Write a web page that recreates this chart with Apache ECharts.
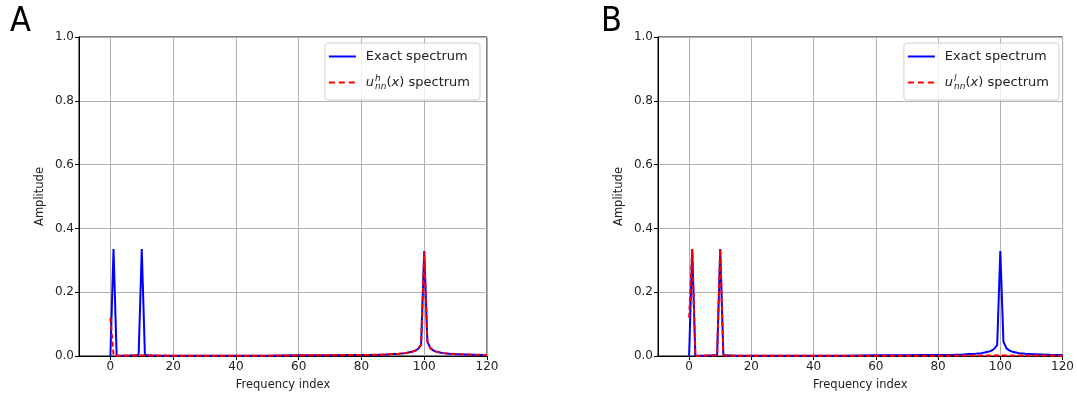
<!DOCTYPE html>
<html>
<head>
<meta charset="utf-8">
<script src="https://cdn.jsdelivr.net/npm/echarts@6/dist/echarts.min.js"></script>
<style>
html,body{margin:0;padding:0;background:#fff;}
#chart{width:1077px;height:396px;}
</style>
</head>
<body>
<div id="chart"></div>
<script>
// ---- data ----
const xTicks = [0, 20, 40, 60, 80, 100, 120];
const yTicks = [0, 0.2, 0.4, 0.6, 0.8, 1.0];

const exactK   = [0, 1, 2, 3, 5, 8, 9, 10, 11, 12, 15, 20, 30, 40, 50, 60, 70, 75, 80, 85, 88, 90, 92, 94, 95, 96, 97, 98, 99, 100, 101, 102, 103, 104, 105, 106, 108, 110, 113, 116, 120];
const exactAmp = [0, 0.335, 0, 0.001, 0.001, 0.002, 0.004, 0.335, 0.004, 0.002, 0.001, 0.001, 0.001, 0.001, 0.001, 0.002, 0.002, 0.003, 0.003, 0.004, 0.005, 0.006, 0.007, 0.009, 0.011, 0.013, 0.016, 0.022, 0.035, 0.329, 0.045, 0.024, 0.017, 0.013, 0.011, 0.009, 0.007, 0.006, 0.005, 0.004, 0.003];

const highK   = [0, 1, 2, 10, 20, 30, 40, 50, 60, 70, 75, 80, 85, 88, 90, 92, 94, 95, 96, 97, 98, 99, 100, 101, 102, 103, 104, 105, 106, 108, 110, 113, 116, 120];
const highAmp = [0.12, 0.003, 0.001, 0.002, 0.001, 0.001, 0.001, 0.001, 0.002, 0.002, 0.003, 0.003, 0.004, 0.005, 0.006, 0.007, 0.009, 0.011, 0.013, 0.016, 0.022, 0.035, 0.327, 0.045, 0.024, 0.017, 0.013, 0.011, 0.009, 0.007, 0.006, 0.005, 0.004, 0.003];

const lowK   = [0, 1, 2, 3, 8, 9, 10, 11, 12, 20, 40, 60, 80, 100, 120];
const lowAmp = [0.12, 0.335, 0, 0.001, 0.002, 0.003, 0.335, 0.003, 0.001, 0.001, 0.001, 0.001, 0.001, 0.002, 0.001];

const panelLabels = ['A', 'B'];
const exactName = 'Exact spectrum';
const highName = 'u_h';
const lowName = 'u_l';

function pairs(xs, ys) { return xs.map((x, i) => [x, ys[i]]); }

const FONT = 'DejaVu Sans';
const grids = [
  { left: 79, right: 590, top: 37, bottom: 40 },
  { left: 658, right: 12, top: 37, bottom: 40 }
];

function xAxisFor(i) {
  return {
    type: 'value', gridIndex: i, min: -10, max: 120,
    name: 'Frequency index', nameLocation: 'middle', nameGap: 23,
    nameTextStyle: { fontFamily: FONT, fontSize: 11.5, color: '#222' },
    axisLine: { show: true, onZero: false, lineStyle: { color: '#000', width: 1 } },
    axisTick: { show: true, inside: false, length: 4, customValues: xTicks, lineStyle: { color: '#000' } },
    axisLabel: { customValues: xTicks, fontFamily: FONT, fontSize: 12, color: '#222', margin: 5 },
    splitLine: { show: true, customValues: xTicks, lineStyle: { color: '#b0b0b0', width: 1 } }
  };
}
function yAxisFor(i) {
  return {
    type: 'value', gridIndex: i, min: 0, max: 1, interval: 0.2,
    name: 'Amplitude', nameLocation: 'middle', nameGap: 33,
    nameTextStyle: { fontFamily: FONT, fontSize: 11.5, color: '#222' },
    axisLine: { show: true, onZero: false, lineStyle: { color: '#000', width: 1 } },
    axisTick: { show: true, inside: false, length: 4, lineStyle: { color: '#000' } },
    axisLabel: { fontFamily: FONT, fontSize: 12, color: '#222', margin: 5, formatter: v => v.toFixed(1) },
    splitLine: { show: true, lineStyle: { color: '#b0b0b0', width: 1 } }
  };
}

const rich = {
  it: { fontFamily: FONT, fontStyle: 'italic', fontSize: 13, color: '#222' },
  sup: { fontFamily: FONT, fontStyle: 'italic', fontSize: 9, color: '#222', verticalAlign: 'top', width: 0, padding: [0, 0, 8, 1] },
  sub: { fontFamily: FONT, fontStyle: 'italic', fontSize: 9, color: '#222', verticalAlign: 'bottom', padding: [6, 0, 0, 0] },
  rm: { fontFamily: FONT, fontSize: 13, color: '#222' }
};
function legendFormatter(name) {
  if (name === highName) return '{it|u}{sup|h}{sub|nn}{rm|(}{it|x}{rm|) spectrum}';
  if (name === lowName) return '{it|u}{sup|l}{sub|nn}{rm|(}{it|x}{rm|) spectrum}';
  return '{rm|' + name + '}';
}
const SOLID_ICON = 'path://M0,0 H27 V2 H0 Z';
const DASH_ICON = 'path://M0,0 H6 V2 H0 Z M10,0 H16 V2 H10 Z M20,0 H26 V2 H20 Z M27,0 H27 V2 H27 Z';
function legendFor(right, data) {
  return {
    orient: 'vertical', right: right, top: 43,
    data: data.map((d, i) => ({ name: d, icon: i === 0 ? SOLID_ICON : DASH_ICON })),
    itemWidth: 27, itemHeight: 2, itemGap: 11,
    padding: [7, 10, 9, 4],
    backgroundColor: 'rgba(255,255,255,0.8)',
    borderColor: '#d0d0d0', borderWidth: 1, borderRadius: 3,
    textStyle: { fontFamily: FONT, fontSize: 13, color: '#222', rich: rich, padding: [0, 0, 0, 5] },
    formatter: legendFormatter,
    selectedMode: false
  };
}

function lineSeries(name, idx, data, color, dashed, z) {
  return {
    type: 'line', name: name, xAxisIndex: idx, yAxisIndex: idx,
    data: data, showSymbol: false, symbol: 'none', animation: false, z: z,
    lineStyle: { color: color, width: 2, type: dashed ? [5, 3] : 'solid' },
    itemStyle: { color: color }
  };
}

const chart = echarts.init(document.getElementById('chart'), null, { renderer: 'canvas' });
chart.setOption({
  backgroundColor: '#fff',
  animation: false,
  grid: grids.map(g => Object.assign({ show: true, borderColor: '#000', borderWidth: 1, backgroundColor: 'transparent' }, g)),
  xAxis: [xAxisFor(0), xAxisFor(1)],
  yAxis: [yAxisFor(0), yAxisFor(1)],
  title: [
    { text: panelLabels[0], left: 5, top: 0, textStyle: { fontFamily: "'DejaVu Sans Condensed', 'Liberation Sans', sans-serif", fontSize: 34, fontWeight: 'normal', color: '#000' } },
    { text: panelLabels[1], left: 596, top: 0, textStyle: { fontFamily: "'DejaVu Sans Condensed', 'Liberation Sans', sans-serif", fontSize: 34, fontWeight: 'normal', color: '#000' } }
  ],
  legend: [
    legendFor(1077 - 480, [exactName, highName]),
    legendFor(1077 - 1059, [exactName, lowName])
  ],
  series: [
    lineSeries(exactName, 0, pairs(exactK, exactAmp), '#0000ff', false, 2),
    lineSeries(highName, 0, pairs(highK, highAmp), '#ff0000', true, 3),
    lineSeries(exactName, 1, pairs(exactK, exactAmp), '#0000ff', false, 2),
    lineSeries(lowName, 1, pairs(lowK, lowAmp), '#ff0000', true, 3)
  ]
});
</script>
</body>
</html>
